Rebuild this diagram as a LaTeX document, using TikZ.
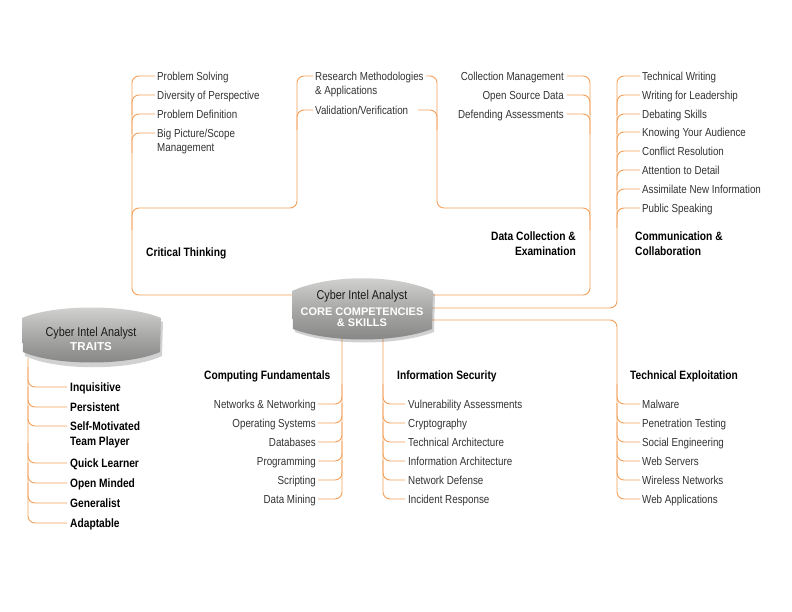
\documentclass[tikz,border=0pt]{standalone}
\usepackage{fontspec}
\setmainfont{Liberation Sans}[FakeStretch=0.845]
\newfontfamily\widefont{Liberation Sans}
\definecolor{lineor}{HTML}{F5A05A}
\definecolor{itemgray}{HTML}{333333}
\definecolor{shTop}{HTML}{D6D6D4}
\definecolor{shMid}{HTML}{A9A9A7}
\definecolor{shBot}{HTML}{838383}
\tikzset{
  conn/.style={draw=lineor, line width=0.9pt, rounded corners=7pt},
  itm/.style={inner sep=0pt, font=\fontsize{11.6}{14.5}\selectfont, text=itemgray},
  itml/.style={itm, anchor=base west},
  itmr/.style={itm, anchor=base east},
  hd/.style={inner sep=0pt, font=\fontsize{12.1}{14.5}\selectfont\bfseries, text=black, anchor=base west},
  hdr/.style={hd, anchor=base east},
  ttl/.style={inner sep=0pt, anchor=base, font=\fontsize{12.8}{14}\selectfont, text=black!90},
  ttlw/.style={inner sep=0pt, anchor=base, font=\widefont\bfseries\fontsize{11}{11.7}\selectfont, text=white},
  lens/.style={top color=shTop, bottom color=shBot, middle color=shMid},
}
\begin{document}
\begin{tikzpicture}[x=1pt,y=-1pt]
\useasboundingbox (0,0) rectangle (792,612);
\fill[white] (0,0) rectangle (792,612);

% ---------- connectors ----------
% Critical Thinking
\draw[conn] (293,295) -- (132,295) -- (132,76) -- (155,76);
\foreach \y in {95,114,133} \draw[conn] (132,\y+20) -- (132,\y) -- (155,\y);
\draw[conn] (132,230) -- (132,208) -- (297,208) -- (297,76) -- (313,76);
\draw[conn] (297,130) -- (297,110) -- (313,110);
% Data Collection
\draw[conn] (432,295) -- (590,295) -- (590,76) -- (567,76);
\foreach \y in {95,114} \draw[conn] (590,\y+20) -- (590,\y) -- (567,\y);
\draw[conn] (590,230) -- (590,208) -- (437,208) -- (437,76) -- (426,76);
\draw[conn] (437,130) -- (437,110) -- (418,110);
% Communication
\draw[conn] (432,308) -- (617,308) -- (617,76) -- (640,76);
\foreach \y in {95,114,132,151,170,189,208} \draw[conn] (617,\y+20) -- (617,\y) -- (640,\y);
% Technical Exploitation
\draw[conn] (432,320) -- (617,320) -- (617,499) -- (640,499);
\foreach \y in {404,423,442,461,480} \draw[conn] (617,\y-20) -- (617,\y) -- (640,\y);
% Computing Fundamentals
\draw[conn] (342,334) -- (342,499) -- (318,499);
\foreach \y in {404,423,442,461,480} \draw[conn] (342,\y-20) -- (342,\y) -- (318,\y);
% Information Security
\draw[conn] (383,334) -- (383,499) -- (405,499);
\foreach \y in {404,423,442,461,480} \draw[conn] (383,\y-20) -- (383,\y) -- (405,\y);
% Traits
\draw[conn] (28,358) -- (28,523) -- (67,523);
\foreach \y in {387,407,426,463,483,503} \draw[conn] (28,\y-20) -- (28,\y) -- (67,\y);

% ---------- lens shapes ----------
\fill[black, opacity=0.18] (294,294) .. controls (332,278) and (397,278) .. (435,294) -- (434,332) .. controls (397,346) and (332,346) .. (295,332) -- cycle;
\shade[lens] (292,291) .. controls (330,274) and (395,274) .. (433,291) -- (432,329) .. controls (395,343) and (330,343) .. (293,329) -- cycle;
\fill[black, opacity=0.18] (24,322) .. controls (57,308) and (130,308) .. (163,322) -- (162,356) .. controls (130,371) and (57,371) .. (25,356) -- cycle;
\shade[lens] (22,318) .. controls (55,304) and (128,304) .. (161,318) -- (160,352) .. controls (128,366) and (55,366) .. (23,352) -- cycle;

\node[ttl] (coreA) at (362,299.3) {Cyber Intel Analyst};
\node[ttlw] (coreB) at (362,315) {CORE COMPETENCIES};
\node[ttlw] (coreC) at (362,326.7) {\& SKILLS};
\node[ttl] (trA) at (91,336) {Cyber Intel Analyst};
\node[ttlw, font=\widefont\bfseries\fontsize{11.5}{12}\selectfont] (trB) at (91,350) {TRAITS};

% ---------- headings ----------
\node[hd] (hCT) at (146,257) {Critical Thinking};
\node[hdr] (hDC) at (576,241) {\begin{tabular}[t]{@{}r@{}}Data Collection \&\\ Examination\end{tabular}};
\node[hd] (hCC) at (635,241) {\begin{tabular}[t]{@{}l@{}}Communication \&\\ Collaboration\end{tabular}};
\node[hd] (hCF) at (204,379) {Computing Fundamentals};
\node[hd] (hIS) at (397,379) {Information Security};
\node[hd] (hTE) at (630,379.5) {Technical Exploitation};

% ---------- Critical Thinking items ----------
\node[itml] (ct1) at (157,80.3) {Problem Solving};
\node[itml] (ct2) at (157,99.3) {Diversity of Perspective};
\node[itml] (ct3) at (157,118.3) {Problem Definition};
\node[itml] (ct4) at (157,137.3) {\begin{tabular}[t]{@{}l@{}}Big Picture/Scope\\ Management\end{tabular}};
\node[itml] (rm1) at (315,80.3) {\begin{tabular}[t]{@{}l@{}}Research Methodologies\\ \& Applications\end{tabular}};
\node[itml] (rm2) at (315,114.3) {Validation/Verification};

% ---------- Data Collection items ----------
\node[itmr] (dc1) at (564,80.3) {Collection Management};
\node[itmr] (dc2) at (564,99.3) {Open Source Data};
\node[itmr] (dc3) at (564,118.3) {Defending Assessments};

% ---------- Communication items ----------
\node[itml] (cc1) at (642,80.3) {Technical Writing};
\node[itml] (cc2) at (642,99.3) {Writing for Leadership};
\node[itml] (cc3) at (642,118.3) {Debating Skills};
\node[itml] (cc4) at (642,136.3) {Knowing Your Audience};
\node[itml] (cc5) at (642,155.3) {Conflict Resolution};
\node[itml] (cc6) at (642,174.3) {Attention to Detail};
\node[itml] (cc7) at (642,193.3) {Assimilate New Information};
\node[itml] (cc8) at (642,212.3) {Public Speaking};

% ---------- Computing items ----------
\node[itmr] (cf1) at (316,408.3) {Networks \& Networking};
\node[itmr] (cf2) at (316,427.3) {Operating Systems};
\node[itmr] (cf3) at (316,446.3) {Databases};
\node[itmr] (cf4) at (316,465.3) {Programming};
\node[itmr] (cf5) at (316,484.3) {Scripting};
\node[itmr] (cf6) at (316,503.3) {Data Mining};

% ---------- Information Security items ----------
\node[itml] (is1) at (408,408.3) {Vulnerability Assessments};
\node[itml] (is2) at (408,427.3) {Cryptography};
\node[itml] (is3) at (408,446.3) {Technical Architecture};
\node[itml] (is4) at (408,465.3) {Information Architecture};
\node[itml] (is5) at (408,484.3) {Network Defense};
\node[itml] (is6) at (408,503.3) {Incident Response};

% ---------- Technical Exploitation items ----------
\node[itml] (te1) at (642,408.3) {Malware};
\node[itml] (te2) at (642,427.3) {Penetration Testing};
\node[itml] (te3) at (642,446.3) {Social Engineering};
\node[itml] (te4) at (642,465.3) {Web Servers};
\node[itml] (te5) at (642,484.3) {Wireless Networks};
\node[itml] (te6) at (642,503.3) {Web Applications};

% ---------- Traits items ----------
\node[hd] (tr1) at (70,391.5) {Inquisitive};
\node[hd] (tr2) at (70,411.5) {Persistent};
\node[hd] (tr3) at (70,430.5) {\begin{tabular}[t]{@{}l@{}}Self-Motivated\\ Team Player\end{tabular}};
\node[hd] (tr4) at (70,467.5) {Quick Learner};
\node[hd] (tr5) at (70,487.5) {Open Minded};
\node[hd] (tr6) at (70,507.5) {Generalist};
\node[hd] (tr7) at (70,527.5) {Adaptable};
\end{tikzpicture}
\end{document}
